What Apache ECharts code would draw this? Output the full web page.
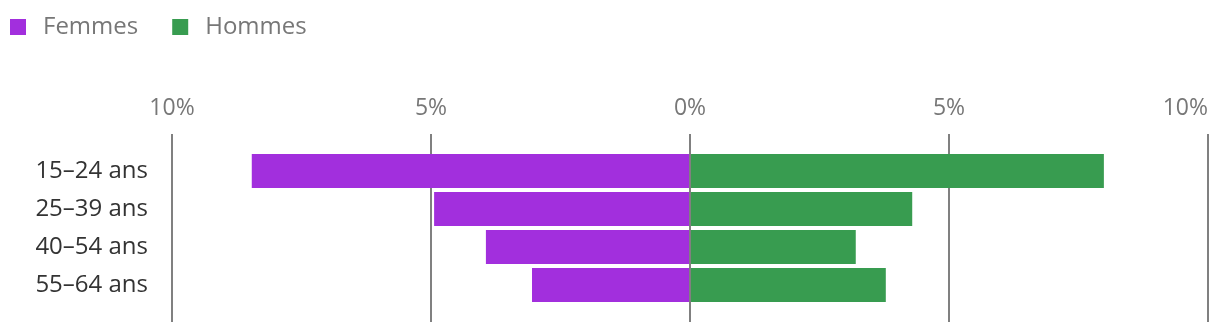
<!DOCTYPE html>
<html>
<head>
<meta charset="utf-8">
<script src="https://cdn.jsdelivr.net/npm/echarts@6/dist/echarts.min.js"></script>
<style>
  html, body { margin: 0; padding: 0; background: #fff; }
  #chart { width: 1220px; height: 334px; }
</style>
</head>
<body>
<div id="chart"></div>
<script>
  const ageGroups = ['15–24 ans', '25–39 ans', '40–54 ans', '55–64 ans']
  const femmes = [8.46, 4.94, 3.94, 3.05]
  const hommes = [7.99, 4.29, 3.2, 3.78]
  const xTicks = [-10, -5, 0, 5, 10]

  const font = '"Open Sans", "Noto Sans", sans-serif'
  const gridColor = '#808080'

  let chart = echarts.init(document.getElementById('chart'))
  chart.setOption({
    animation: false,
    textStyle: { fontFamily: font },
    legend: {
      left: 10,
      top: 15,
      padding: 0,
      itemWidth: 16,
      itemHeight: 16,
      itemGap: 34,
      icon: 'rect',
      textStyle: { color: '#777', fontSize: 24, padding: [0, 0, 0, 12] },
      data: ['Femmes', 'Hommes'],
    },
    grid: [
      { left: 172, right: 12, top: 134, height: 188, outerBoundsMode: 'none', containLabel: false },
      { left: 172, right: 12, top: 152, height: 152, outerBoundsMode: 'none', containLabel: false },
    ],
    xAxis: [
      {
        gridIndex: 0,
        type: 'value',
        position: 'top',
        min: xTicks[0],
        max: xTicks[xTicks.length - 1],
        interval: 5,
        axisLine: { show: false },
        axisTick: { show: false },
        axisLabel: {
          color: '#777',
          fontSize: 23,
          margin: 14,
          alignMaxLabel: 'right',
          formatter: (v) => Math.abs(v) + '%',
        },
        splitLine: { show: true, lineStyle: { color: gridColor, width: 2 } },
      },
      {
        gridIndex: 1,
        type: 'value',
        min: xTicks[0],
        max: xTicks[xTicks.length - 1],
        show: false,
      },
    ],
    yAxis: [
      { gridIndex: 0, type: 'value', show: false },
      {
        gridIndex: 1,
        type: 'category',
        inverse: true,
        data: ageGroups,
        axisLine: { show: false },
        axisTick: { show: false },
        axisLabel: { color: '#333', fontSize: 24, margin: 24 },
      },
    ],
    series: [
      {
        name: 'Femmes',
        type: 'bar',
        xAxisIndex: 1,
        yAxisIndex: 1,
        stack: 'pop',
        barWidth: 34,
        itemStyle: { color: '#a22fdd' },
        data: femmes.map((v) => -v),
      },
      {
        name: 'Hommes',
        type: 'bar',
        xAxisIndex: 1,
        yAxisIndex: 1,
        stack: 'pop',
        barWidth: 34,
        itemStyle: { color: '#389c50' },
        data: hommes,
        markLine: {
          silent: true,
          symbol: 'none',
          label: { show: false },
          lineStyle: { color: gridColor, width: 2, type: 'solid' },
          data: [{ xAxis: 0 }],
        },
      },
    ],
  })
</script>
</body>
</html>
